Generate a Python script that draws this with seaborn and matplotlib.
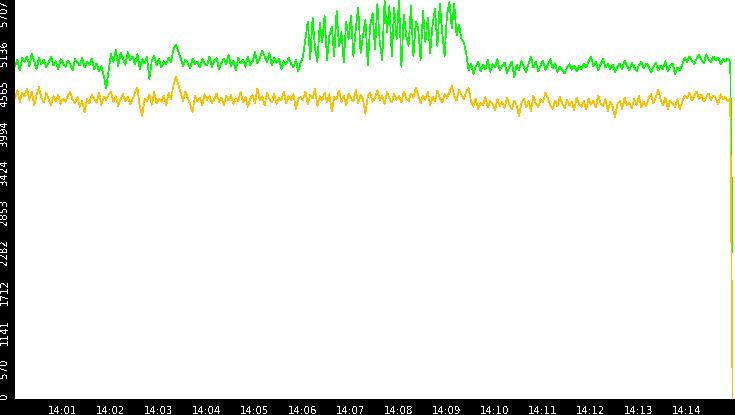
# Two-series throughput monitor: green + amber lines on a white plot, black frame strips
import numpy as np
import pandas as pd
import matplotlib
matplotlib.use("Agg")
import matplotlib.pyplot as plt
import seaborn as sns

# samples every 3 s starting at 14:00:00
SAMPLE_STEP = 3

green_vals = [
    4760, 4850, 4700, 4880, 4820, 4900, 4760, 4940, 4830, 4720,
    4880, 4790, 4850, 4740, 4810, 4900, 4770, 4830, 4720, 4860,
    4800, 4750, 4840, 4790, 4700, 4860, 4810, 4770, 4880, 4740,
    4820, 4780, 4870, 4720, 4800, 4690, 4760, 4620, 4440, 4700,
    4930, 4820, 4990, 4760, 4950, 4870, 4780, 4960, 4850, 4900,
    4790, 4930, 4720, 4860, 4800, 4890, 4580, 4840, 4910, 4770,
    4860, 4740, 4830, 4790, 4880, 4820, 4990, 5070, 4980, 4880,
    4760, 4850, 4800, 4730, 4870, 4790, 4820, 4740, 4860, 4800,
    4770, 4900, 4750, 4830, 4880, 4720, 4810, 4860, 4790, 4920,
    4760, 4840, 4700, 4880, 4800, 4850, 4750, 4900, 4780, 4830,
    4960, 4800, 4870, 4980, 4900, 4820, 4950, 4770, 4880, 4810,
    4860, 4720, 4830, 4790, 4880, 4800, 4740, 4850, 4690, 4810,
    # burst 14:06 - 14:09:25
    4900, 5150, 5400, 4860, 5450, 5020, 4820, 5380, 5100, 5480,
    4850, 5200, 5320, 4900, 5550, 5050, 5250, 4820, 5400, 5150,
    5480, 4900, 5300, 5600, 4950, 5200, 5420, 4780, 5350, 5520,
    5000, 5650, 5100, 4850, 5700, 5250, 5620, 4900, 5600, 5150,
    5700, 4750, 5500, 5200, 5050, 5620, 4900, 5400, 5300, 4850,
    5550, 5100, 5450, 4950, 5350, 5580, 5050, 5650, 5250, 4900,
    5500, 5680, 5300, 5650, 5200, 5350, 5150, 5100, 4950,
    # back to normal
    4700, 4800, 4650, 4760, 4820, 4690, 4780, 4720, 4850, 4680,
    4790, 4740, 4860, 4700, 4770, 4810, 4660, 4750, 4820, 4600,
    4780, 4700, 4830, 4750, 4680, 4800, 4900, 4740, 4820, 4690,
    4770, 4840, 4710, 4780, 4860, 4730, 4800, 4680, 4750, 4700,
    4660, 4740, 4790, 4710, 4770, 4690, 4760, 4720, 4800, 4740,
    4830, 4900, 4760, 4820, 4700, 4790, 4860, 4740, 4800, 4720,
    4780, 4680, 4750, 4800, 4720, 4840, 4770, 4700, 4810, 4750,
    4690, 4780, 4820, 4730, 4800, 4760, 4670, 4750, 4810, 4700,
    4770, 4720, 4830, 4690, 4760, 4800, 4650, 4740, 4700, 4780,
    4880, 4820, 4900, 4840, 4790, 4870, 4920, 4850, 4800, 4930,
    4860, 4820, 4900, 4840, 4880, 4790, 4860, 4830, 4870, 4820,
    2100,
]

amber_vals = [
    4300, 4420, 4250, 4380, 4330, 4440, 4280, 4400, 4200, 4350,
    4460, 4310, 4240, 4380, 4290, 4200, 4330, 4260, 4350, 4220,
    4300, 4250, 4340, 4390, 4280, 4230, 4320, 4180, 4260, 4100,
    4290, 4230, 4350, 4300, 4240, 4380, 4210, 4320, 4280, 4350,
    4400, 4250, 4330, 4190, 4290, 4360, 4260, 4320, 4220, 4290,
    4380, 4450, 4180, 4050, 4300, 4260, 4350, 4210, 4390, 4230,
    4300, 4250, 4340, 4200, 4380, 4290, 4480, 4610, 4500, 4380,
    4260, 4400, 4300, 4220, 4100, 4340, 4260, 4310, 4200, 4360,
    4280, 4330, 4230, 4290, 4370, 4250, 4310, 4200, 4340, 4270,
    4350, 4220, 4300, 4260, 4390, 4240, 4320, 4180, 4290, 4350,
    4230, 4440, 4270, 4330, 4200, 4380, 4290, 4250, 4360, 4220,
    4310, 4270, 4400, 4230, 4330, 4280, 4360, 4150, 4290, 4320,
    4280, 4400, 4220, 4350, 4300, 4430, 4190, 4330, 4270, 4380,
    4240, 4360, 4110, 4320, 4290, 4410, 4250, 4340, 4200, 4370,
    4300, 4260, 4420, 4230, 4350, 4290, 4080, 4330, 4380, 4250,
    4310, 4420, 4270, 4340, 4220, 4390, 4300, 4250, 4360, 4280,
    4330, 4240, 4400, 4300, 4260, 4370, 4310, 4450, 4350, 4230,
    4340, 4280, 4390, 4200, 4320, 4260, 4410, 4300, 4240, 4360,
    4310, 4380, 4480, 4330, 4270, 4420, 4350, 4290, 4400,
    4450, 4260, 4180, 4300, 4150, 4240, 4200, 4320, 4170, 4260,
    4220, 4130, 4290, 4190, 4250, 4160, 4310, 4210, 4140, 4270,
    4200, 4050, 4230, 4300, 4170, 4260, 4120, 4340, 4220, 4180,
    4290, 4240, 4380, 4300, 4210, 4150, 4270, 4190, 4320, 4230,
    4160, 4280, 4200, 4250, 4130, 4310, 4220, 4180, 4260, 4140,
    4300, 4210, 4270, 4170, 4340, 4230, 4190, 4290, 4120, 4250,
    4180, 4030, 4220, 4270, 4150, 4310, 4200, 4240, 4160, 4290,
    4210, 4330, 4170, 4250, 4190, 4300, 4360, 4230, 4320, 4420,
    4280, 4200, 4310, 4150, 4260, 4230, 4180, 4290, 4140, 4250,
    4340, 4300, 4380, 4270, 4330, 4400, 4290, 4350, 4260, 4310,
    4370, 4280, 4340, 4300, 4220, 4360, 4290, 4320, 4260, 4300,
    0,
]

x_tick_labels = ["14:01", "14:02", "14:03", "14:04", "14:05", "14:06", "14:07",
                 "14:08", "14:09", "14:10", "14:11", "14:12", "14:13", "14:14"]
y_tick_labels = ["0", "570", "1141", "1712", "2282", "2853",
                 "3424", "3994", "4565", "5136", "5707"]
Y_MAX = 5707

sns.set_style("white")
plt.rcParams["font.family"] = ["DejaVu Sans"]
plt.rcParams["text.antialiased"] = False

secs = np.arange(len(green_vals)) * SAMPLE_STEP
df = pd.DataFrame({
    "t": np.concatenate([secs, secs]),
    "value": green_vals + amber_vals,
    "series": ["green"] * len(green_vals) + ["amber"] * len(amber_vals),
})

fig = plt.figure(figsize=(7.35, 4.15), dpi=100, facecolor="black")
ax = fig.add_axes([15 / 735, 16 / 415, 720 / 735, 399 / 415])
ax.set_facecolor("white")

# crisp thin lines like the monitoring tool (no antialiasing)
sns.lineplot(data=df, x="t", y="value", hue="series",
             palette={"green": "#00ff00", "amber": "#ffc000"},
             linewidth=0.5, legend=False, ax=ax, estimator=None,
             antialiased=False)

ax.set_xlim(0, 900)
ax.set_ylim(0, Y_MAX)
for s in ax.spines.values():
    s.set_visible(False)

ax.set_xticks(np.arange(1, 15) * 60)
ax.set_xticklabels(x_tick_labels)
ax.set_yticks(np.linspace(0, Y_MAX, len(y_tick_labels)))
ax.set_yticklabels(y_tick_labels)
ax.set_xlabel("")
ax.set_ylabel("")

ax.tick_params(axis="x", colors="white", direction="out", length=4.3, width=0.8,
               pad=0.5, labelsize=7.4)
ax.tick_params(axis="y", colors="white", direction="out", length=3.6, width=0.8,
               pad=0.3, labelsize=7.4)

# y labels run bottom-to-top and hang below their tick
for i, lab in enumerate(ax.get_yticklabels()):
    lab.set_rotation(90)
    lab.set_ha("right")
    lab.set_va("bottom" if i == 0 else "top")

fig.savefig("out.png", dpi=100, facecolor="black")
